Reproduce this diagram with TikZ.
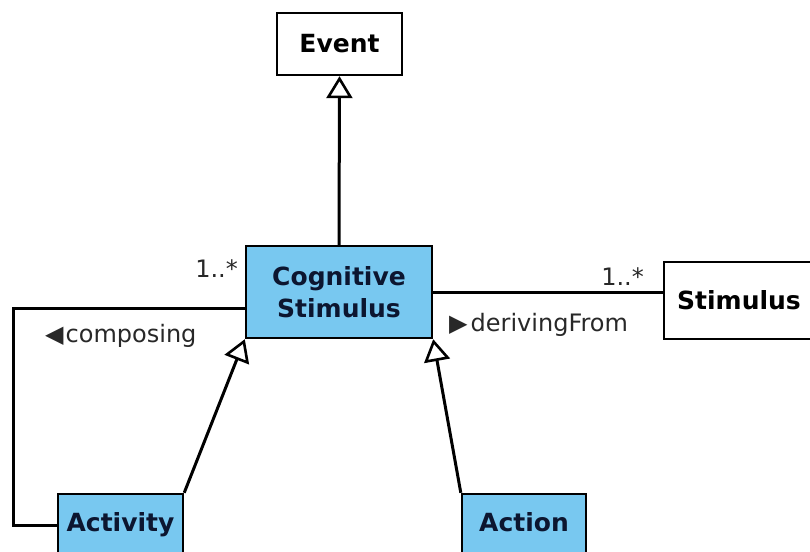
\documentclass[tikz,border=0pt]{standalone}
\usepackage{fontspec}
\setmainfont{DejaVu Sans}
\usetikzlibrary{arrows.meta}
\definecolor{boxblue}{RGB}{120,200,240}
\definecolor{boxtext}{RGB}{12,22,48}
\definecolor{labeltext}{RGB}{40,40,40}
\tikzset{
  cls/.style={draw=black, line width=2.4pt, fill=white, inner sep=0pt, align=center,
    font=\fontsize{25}{32}\selectfont\bfseries, text=black},
  bluecls/.style={cls, fill=boxblue, text=boxtext},
  assoc/.style={draw=black, line width=3pt},
  gen/.style={draw=black, line width=3pt, -{Triangle[open, length=22pt, width=26pt, fill=white, line width=2.6pt]}},
  lbl/.style={inner sep=0pt, anchor=base west, text=labeltext, font=\fontsize{24}{28}\selectfont}
}
\begin{document}
\begin{tikzpicture}[x=1pt, y=-1pt]
\useasboundingbox (0,0) rectangle (810,551);
\clip (0,0) rectangle (810,551);
\fill[white] (0,0) rectangle (810,551);
% classes
\node[cls, minimum width=125pt, minimum height=62pt] (event) at (339.5,44) {Event};
\node[bluecls, minimum width=186pt, minimum height=92pt] (cog) at (339,292) {Cognitive\\Stimulus};
\node[cls, minimum width=150pt, minimum height=77pt] (stim) at (739,300.5) {Stimulus};
\node[bluecls, minimum width=125pt, minimum height=62pt] (activity) at (120.5,525) {Activity\strut};
\node[bluecls, minimum width=124pt, minimum height=62pt] (action) at (524,525) {Action\strut};
% generalizations
\draw[gen] (cog.north) -- (event.south);
\draw[gen] (activity.north east) -- (cog.south west);
\draw[gen] (action.north west) -- (cog.south east);
% associations
\coordinate (leftturn) at (13,308);
\draw[assoc] ([yshift=-16pt]cog.west) -- (leftturn) |- (activity.west);
\draw[assoc] (cog.east) -- (cog.east -| stim.west);
% labels
\node[lbl, anchor=base east] (m1) at (238,277) {1..*};
\node[lbl] (comp) at (45,342) {◀\hspace{2pt}composing};
\node[lbl, anchor=base east] (m2) at (644,285) {1..*};
\node[lbl] (der) at (449,331) {▶\hspace{3pt}derivingFrom};
\end{tikzpicture}
\end{document}
